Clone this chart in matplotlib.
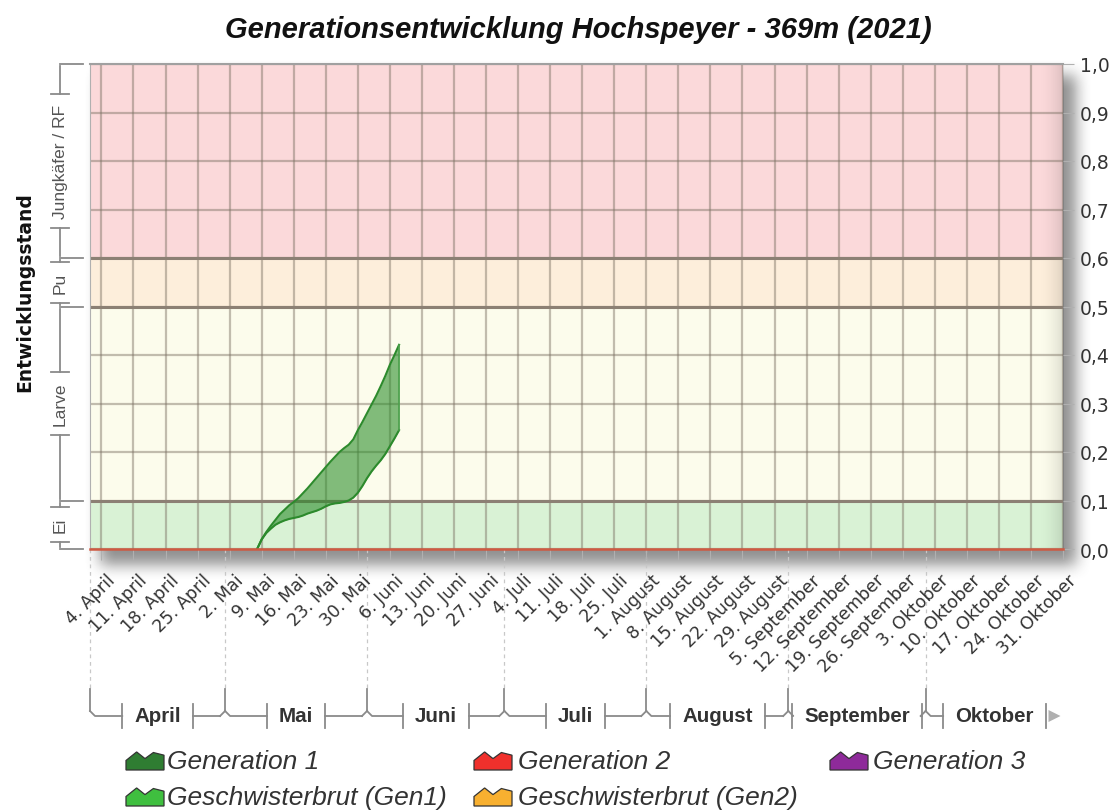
import numpy as np
import matplotlib
matplotlib.use('Agg')
import matplotlib.pyplot as plt
from matplotlib.lines import Line2D
from matplotlib.patches import Polygon
from matplotlib.transforms import ScaledTranslation

# Tag 0 = 4. April 2021
gen1_tage = np.arange(34, 66)
gen1_oben = [0.0, 0.02, 0.035, 0.048, 0.06, 0.072, 0.081, 0.09, 0.097, 0.105,
             0.115, 0.125, 0.136, 0.147, 0.158, 0.169, 0.18, 0.19, 0.2, 0.208,
             0.215, 0.226, 0.245, 0.262, 0.28, 0.298, 0.316, 0.336, 0.357, 0.38,
             0.4, 0.421]
gen1_unten = [0.0, 0.02, 0.033, 0.042, 0.05, 0.055, 0.059, 0.062, 0.064, 0.066,
              0.069, 0.073, 0.076, 0.079, 0.083, 0.088, 0.092, 0.094, 0.095, 0.097,
              0.1, 0.106, 0.116, 0.13, 0.146, 0.16, 0.172, 0.183, 0.196, 0.212,
              0.228, 0.245]

wochen = ['4. April', '11. April', '18. April', '25. April', '2. Mai', '9. Mai',
          '16. Mai', '23. Mai', '30. Mai', '6. Juni', '13. Juni', '20. Juni',
          '27. Juni', '4. Juli', '11. Juli', '18. Juli', '25. Juli', '1. August',
          '8. August', '15. August', '22. August', '29. August', '5. September',
          '12. September', '19. September', '26. September', '3. Oktober',
          '10. Oktober', '17. Oktober', '24. Oktober', '31. Oktober']
monate = ['April', 'Mai', 'Juni', 'Juli', 'August', 'September', 'Oktober']
monat_beginn = ['2021-04-01', '2021-05-01', '2021-06-01', '2021-07-01',
                '2021-08-01', '2021-09-01', '2021-10-01', '2021-11-01']

stadien = ['Ei', 'Larve', 'Pu', 'Jungkäfer / RF']
stadien_grenzen = [0.0, 0.1, 0.5, 0.6, 1.0]
stadien_farben = ['#d9f2d5', '#fcfcec', '#fdeedb', '#fbd9da']

legende = ['Generation 1', 'Generation 2', 'Generation 3',
           'Geschwisterbrut (Gen1)', 'Geschwisterbrut (Gen2)']
legende_farben = ['#2f7d32', '#f0302c', '#8e2a9a', '#3fbf3f', '#f8b030']

W, H = 1110, 812
fig = plt.figure(figsize=(W / 100, H / 100), dpi=100)

# Schatten hinter dem Diagramm
def blur(a, k):
    kern = np.ones(k) / k
    a = np.apply_along_axis(lambda r: np.convolve(r, kern, mode='same'), 1, a)
    return np.apply_along_axis(lambda c: np.convolve(c, kern, mode='same'), 0, a)

maske = np.zeros((H, W))
maske[76:566, 100:1076] = 1.0
maske = blur(blur(maske, 17), 17)
schatten = np.zeros((H, W, 4))
schatten[..., :3] = 0.3
schatten[..., 3] = maske * 0.62
bg = fig.add_axes([0, 0, 1, 1], zorder=0)
bg.imshow(schatten, extent=[0, W, H, 0], aspect='auto')
bg.set_xlim(0, W)
bg.set_ylim(H, 0)
bg.axis('off')

ax = fig.add_axes([90 / W, 1 - 550 / H, (1063 - 90) / W, (550 - 65) / H], zorder=2)
x_links, x_rechts = -2.5, 210
ax.set_xlim(x_links, x_rechts)
ax.set_ylim(0, 1)

for i in range(4):
    ax.axhspan(stadien_grenzen[i], stadien_grenzen[i + 1], color=stadien_farben[i], lw=0, zorder=0)

# leichte Schattierung am rechten Rand
verlauf = np.linspace(0, 1, 64) ** 2
glanz = np.zeros((1, 64, 4))
glanz[..., 3] = verlauf * 0.13
ax.imshow(glanz, extent=[x_rechts - 6, x_rechts, 0, 1], aspect='auto', zorder=0.5)
ax.set_xlim(x_links, x_rechts)
ax.set_ylim(0, 1)

tick_x = np.arange(len(wochen)) * 7
ax.set_xticks(tick_x)
ax.set_xticklabels(wochen, rotation=45, ha='right', va='center', rotation_mode='anchor',
                   fontsize=12.5, color='#333333')
ax.set_yticks(np.arange(0, 1.01, 0.1))
ax.set_yticklabels([f'{v:.1f}'.replace('.', ',') for v in np.arange(0, 1.01, 0.1)],
                   fontsize=13.5, color='#333333')
ax.yaxis.tick_right()
ax.tick_params(axis='x', length=8, color='#b0b0b0', pad=0)
ax.tick_params(axis='y', length=8, color='#b0b0b0', pad=4)
for lab in ax.get_xticklabels():
    lab.set_transform(lab.get_transform() + ScaledTranslation(0.11, -0.17, fig.dpi_scale_trans))

ax.grid(True, color='#7a7062', alpha=0.45, lw=1.6, zorder=1)
for g in stadien_grenzen[1:-1]:
    ax.axhline(g, color='#8c8074', lw=2.2, zorder=1.5)
for s in ['right', 'bottom']:
    ax.spines[s].set_visible(False)
ax.spines['left'].set_color('#b0b0b0')
ax.spines['top'].set_color('#a0a0a0')
ax.spines['top'].set_linewidth(1.5)
ax.set_axisbelow(True)

# Generation 1
ax.fill_between(gen1_tage, gen1_unten, gen1_oben, color='#288c28', alpha=0.58, lw=0, zorder=3)
ax.plot(gen1_tage, gen1_oben, color='#2c8a2c', lw=1.5, zorder=4)
ax.plot(gen1_tage, gen1_unten, color='#2c8a2c', lw=1.5, zorder=4)
ax.plot([gen1_tage[-1]] * 2, [gen1_unten[-1], gen1_oben[-1]], color='#4ca04c', lw=1.2, zorder=4)
# Generation 2 (noch bei 0)
ax.axhline(0, color='#cf5a42', lw=1.8, zorder=4, clip_on=False)

fig.text(578 / W, 1 - 30 / H, 'Generationsentwicklung Hochspeyer - 369m (2021)',
         ha='center', va='center', fontsize=21, fontweight='bold', fontstyle='italic',
         family='Liberation Sans', color='#111111')
fig.text(25 / W, 1 - 292 / H, 'Entwicklungsstand', rotation=90, ha='center', va='center',
         fontsize=13.5, fontweight='bold', color='#111111')

GRAU = '#8a8a8a'

def linie(xs, ys, **kw):
    kw.setdefault('color', GRAU)
    kw.setdefault('lw', 1.3)
    fig.add_artist(Line2D([x / W for x in xs], [1 - y / H for y in ys],
                          transform=fig.transFigure, **kw))

def xpx(x):
    return ax.transData.transform((x, 0))[0]

def ypx(y):
    return H - ax.transData.transform((0, y))[1]

# Monatsklammern
tage = [(np.datetime64(d) - np.datetime64('2021-04-04')).astype(int) for d in monat_beginn]
Y_LINIE, Y_OBEN = 717, 690
m_texte = []
for i, name in enumerate(monate):
    x0 = xpx(max(tage[i], x_links))
    x1 = xpx(min(tage[i + 1], x_rechts))
    t = fig.text((x0 + x1) / 2 / W, 1 - Y_LINIE / H, name, ha='center', va='center',
                 fontsize=14.8, fontweight='bold', family='Liberation Sans', color='#333333')
    m_texte.append((x0, x1, t))

# Stadienklammern
X_LINIE = 60
s_texte = []
for i, name in enumerate(stadien):
    y0 = ypx(stadien_grenzen[i])
    y1 = ypx(stadien_grenzen[i + 1])
    t = fig.text(X_LINIE / W, 1 - (y0 + y1) / 2 / H, name, rotation=90, ha='center', va='center',
                 fontsize=12.5, family='Liberation Sans', color='#555555')
    s_texte.append((y0, y1, t))

fig.canvas.draw()
r = fig.canvas.get_renderer()

for i, (x0, x1, t) in enumerate(m_texte):
    bb = t.get_window_extent(r)
    g0 = max(bb.x0 - 12, x0 + 4)
    g1 = min(bb.x1 + 12, x1 - 4)
    # gestrichelte Monatsgrenze
    linie([x0, x0], [550, Y_OBEN], color='#c8c8c8', lw=0.9, ls=(0, (3, 3)))
    linie([x0, x0], [Y_OBEN, Y_LINIE - 5])
    linie([x0, x0 + 5, g0], [Y_LINIE - 5, Y_LINIE, Y_LINIE])
    if i > 0:
        linie([x0, x0 - 5], [Y_LINIE - 5, Y_LINIE])
    linie([g0, g0], [Y_LINIE - 12, Y_LINIE + 12])
    linie([g1, g1], [Y_LINIE - 12, Y_LINIE + 12])
    if i < len(m_texte) - 1:
        linie([g1, x1 - 5], [Y_LINIE, Y_LINIE])
    else:
        fig.add_artist(Polygon([[(g1 + 3) / W, 1 - (Y_LINIE - 6) / H],
                                [(g1 + 3) / W, 1 - (Y_LINIE + 6) / H],
                                [(g1 + 15) / W, 1 - Y_LINIE / H]],
                               closed=True, transform=fig.transFigure,
                               facecolor='#b0b0b0', edgecolor='none'))

for i, (y0, y1, t) in enumerate(s_texte):
    bb = t.get_window_extent(r)
    t_oben = H - bb.y1
    t_unten = H - bb.y0
    g_oben = max(t_oben - 10, y1 + 4)
    g_unten = min(t_unten + 10, y0 - 4)
    linie([X_LINIE, 83], [y0, y0])
    linie([X_LINIE, X_LINIE], [y1 + 2, g_oben])
    linie([X_LINIE, X_LINIE], [g_unten, y0 - 2])
    linie([X_LINIE - 9, X_LINIE + 9], [g_oben, g_oben])
    linie([X_LINIE - 9, X_LINIE + 9], [g_unten, g_unten])
linie([X_LINIE, 83], [ypx(1.0), ypx(1.0)])

# Legende
icon_x = [126, 474, 830, 126, 474]
text_x = [167, 518, 873, 167, 518]
zeile_y = [762, 762, 762, 798, 798]
form = [(0, 0), (0, 0.5), (0.28, 0.95), (0.5, 0.6), (0.72, 0.92), (1, 0.78), (1, 0)]
for i, name in enumerate(legende):
    bx, by = icon_x[i], zeile_y[i] + 9
    pts = [((bx + 38 * u) / W, 1 - (by - 19 * v) / H) for u, v in form]
    fig.add_artist(Polygon(pts, closed=True, transform=fig.transFigure,
                           facecolor=legende_farben[i], edgecolor='#333333', lw=0.9))
    fig.text(text_x[i] / W, 1 - zeile_y[i] / H, name, ha='left', va='center',
             fontsize=19, fontstyle='italic', family='Liberation Sans', color='#333333')

fig.savefig('out.png', dpi=100)
